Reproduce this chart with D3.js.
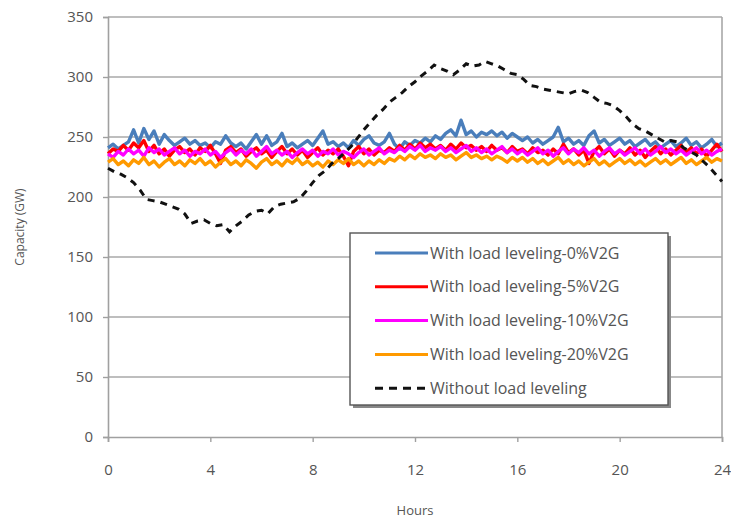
<!DOCTYPE html>
<html>
<head>
<meta charset="utf-8">
<script src="https://cdn.jsdelivr.net/npm/d3@7"></script>
<style>
  html, body { margin: 0; padding: 0; background: #fff; }
  svg { display: block; }
  text { font-family: "Open Sans", "Liberation Sans", sans-serif; fill: #555; }
</style>
</head>
<body>
<svg id="chart" width="731" height="520"></svg>
<script>
// Hourly capacity profiles, sampled every 12 minutes (colored series) / 15 minutes (baseline)
const hoursFine = d3.range(0, 24.001, 0.2);
const hoursBase = d3.range(0, 24.001, 0.25);

const v2g0 = [241,244,240,243,246,256,245,257,248,255,244,252,247,243,246,249,244,247,243,245,
  241,246,244,251,245,242,245,240,246,252,244,251,243,246,253,242,245,241,244,247,
  243,249,255,244,246,242,245,241,247,243,248,251,245,243,246,253,244,240,246,243,
  247,245,249,246,251,248,253,256,251,264,252,255,250,254,252,255,251,254,249,253,
  250,247,250,245,248,244,247,250,258,246,249,244,247,243,251,255,245,248,243,246,
  249,244,247,242,245,248,243,246,241,244,247,242,245,249,243,246,241,244,248,242,245];

const v2g5 = [236,240,238,243,239,245,241,247,238,243,236,240,234,239,242,237,240,235,241,238,
  243,236,228,239,242,237,240,234,238,241,236,239,233,238,242,236,240,235,239,233,
  237,241,235,239,236,240,234,226,238,242,236,240,235,239,237,241,238,243,239,244,
  240,245,241,244,240,243,239,244,240,245,241,243,239,242,238,243,239,241,237,242,
  238,240,236,241,237,239,235,240,236,244,237,240,235,239,228,238,242,236,240,234,
  239,236,241,235,239,233,238,242,236,240,235,239,243,237,241,236,240,234,239,244,238];

const v2g10 = [236,233,238,235,240,236,239,234,241,237,240,235,238,241,236,239,234,238,236,240,
  235,238,233,237,240,235,239,236,240,234,238,242,236,239,235,238,233,237,240,236,
  239,234,238,236,240,235,238,236,233,237,240,235,238,241,236,239,237,241,238,242,
  239,243,238,241,239,242,238,241,237,240,243,238,241,237,240,236,239,242,237,240,
  236,239,235,238,241,236,239,234,238,241,236,240,237,241,236,239,234,238,241,236,
  239,235,238,241,236,240,235,238,242,237,240,236,239,235,238,241,236,239,235,238,240];

const v2g20 = [229,232,227,230,226,231,228,233,227,230,225,229,232,227,230,226,231,228,232,227,
  230,225,229,232,227,230,226,231,228,224,229,232,227,230,226,231,228,232,227,230,
  226,229,225,230,227,231,228,232,227,230,226,230,227,231,228,232,230,234,231,235,
  232,236,233,235,232,236,233,235,231,234,237,233,235,232,234,231,234,232,229,233,
  230,233,229,232,228,231,227,230,233,228,231,227,230,226,229,232,227,230,226,229,
  232,228,231,227,230,226,229,232,228,231,227,230,233,228,231,227,230,233,229,232,230];

const noLeveling = [224,221,219,216,212,206,198,197,196,194,192,190,186,178,180,181,178,176,177,171,
  176,180,185,188,189,186,192,194,195,196,199,205,212,218,222,228,232,237,242,249,
  256,262,268,273,279,283,287,292,296,301,305,310,307,305,302,306,311,309,310,313,
  311,309,306,303,302,298,293,292,290,289,288,287,286,288,289,287,283,279,278,276,
  272,267,261,257,255,252,249,246,247,246,241,238,235,230,225,219,213];

const xTicks = [0, 4, 8, 12, 16, 20, 24];
const yTicks = [0, 50, 100, 150, 200, 250, 300, 350];

const seriesNames = [
  "With load leveling-0%V2G",
  "With load leveling-5%V2G",
  "With load leveling-10%V2G",
  "With load leveling-20%V2G",
  "Without load leveling"
];
const seriesColors = ["#4a7ebb", "#ff0000", "#ff00ff", "#ff9a00", "#111111"];

const svg = d3.select("#chart");
const margin = { left: 108, right: 9, top: 17, bottom: 83 };
const W = 731, H = 520;

const x = d3.scaleLinear().domain([0, 24]).range([margin.left, W - margin.right]);
const y = d3.scaleLinear().domain([0, 350]).range([H - margin.bottom, margin.top]);

// horizontal gridlines
svg.append("g")
  .selectAll("line")
  .data(yTicks.filter(d => d > 0))
  .join("line")
  .attr("x1", x(0)).attr("x2", x(24))
  .attr("y1", d => y(d)).attr("y2", d => y(d))
  .attr("stroke", "#a8a8a8").attr("stroke-width", 1.6);

// right border of the plot area
svg.append("line")
  .attr("x1", x(24)).attr("x2", x(24))
  .attr("y1", y(350)).attr("y2", y(0))
  .attr("stroke", "#a8a8a8").attr("stroke-width", 1.6);

// axes
const yAxis = d3.axisLeft(y).tickValues(yTicks).tickSize(5).tickPadding(10);
const xAxis = d3.axisBottom(x).tickValues(xTicks).tickSize(5).tickPadding(22);

const gy = svg.append("g").attr("transform", `translate(${x(0)},0)`).call(yAxis);
const gx = svg.append("g").attr("transform", `translate(0,${y(0)})`).call(xAxis);
[gy, gx].forEach(g => {
  g.select(".domain").attr("stroke", "#a0a0a0").attr("stroke-width", 1.6);
  g.selectAll(".tick line").attr("stroke", "#a0a0a0").attr("stroke-width", 1.4);
  g.selectAll(".tick text").attr("fill", "#555").style("font-size", "15px");
});

// axis titles
svg.append("text")
  .attr("x", x(12)).attr("y", 515)
  .attr("text-anchor", "middle")
  .style("font-size", "13px")
  .text("Hours");
svg.append("text")
  .attr("transform", `translate(24,${y(175)}) rotate(-90)`)
  .attr("text-anchor", "middle")
  .style("font-size", "12px")
  .text("Capacity (GW)");

// data series
const plot = svg.append("g");
const lineFine = d3.line().x((d, i) => x(hoursFine[i])).y(d => y(d));
const lineBase = d3.line().x((d, i) => x(hoursBase[i])).y(d => y(d));

const colored = [v2g0, v2g5, v2g10, v2g20];
colored.forEach((vals, k) => {
  plot.append("path")
    .datum(vals)
    .attr("d", lineFine)
    .attr("fill", "none")
    .attr("stroke", seriesColors[k])
    .attr("stroke-width", 3.4)
    .attr("stroke-linejoin", "round");
});
plot.append("path")
  .datum(noLeveling)
  .attr("d", lineBase)
  .attr("fill", "none")
  .attr("stroke", seriesColors[4])
  .attr("stroke-width", 3)
  .attr("stroke-dasharray", "7,6");

// legend
const lg = svg.append("g").attr("transform", "translate(350,233)");
const lw = 318, lh = 172;
lg.append("rect")
  .attr("x", 3).attr("y", 3).attr("width", lw).attr("height", lh)
  .attr("fill", "#888");
lg.append("rect")
  .attr("width", lw).attr("height", lh)
  .attr("fill", "#fff").attr("stroke", "#555").attr("stroke-width", 1.4);

const rows = lg.selectAll("g.row")
  .data(seriesNames)
  .join("g")
  .attr("transform", (d, i) => `translate(0,${20 + i * 33.8})`);
rows.append("line")
  .attr("x1", 25).attr("x2", 78)
  .attr("stroke", (d, i) => seriesColors[i])
  .attr("stroke-width", 3)
  .attr("stroke-dasharray", (d, i) => i === 4 ? "8,6" : null);
rows.append("text")
  .attr("x", 80).attr("dy", "0.35em")
  .attr("fill", "#4a4a4a")
  .style("font-size", "16px")
  .text(d => d);
</script>
</body>
</html>
